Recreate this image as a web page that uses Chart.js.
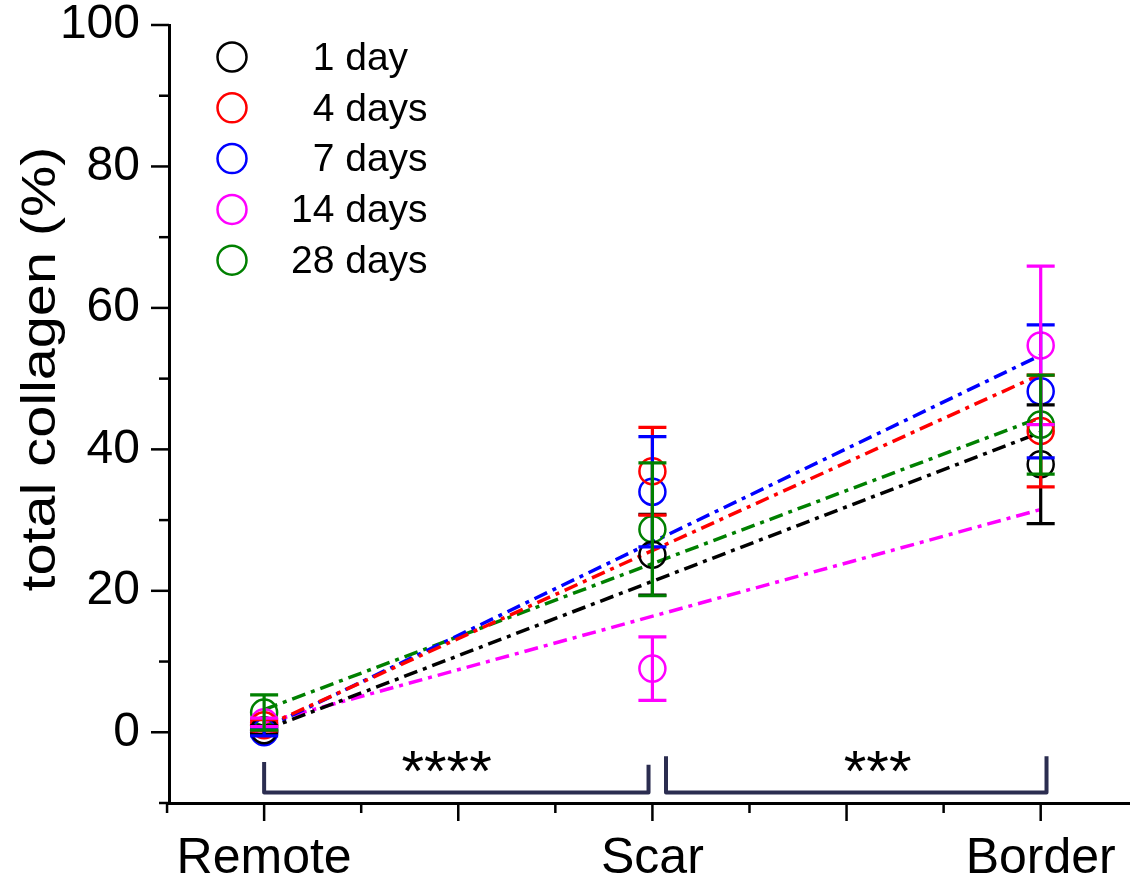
<!DOCTYPE html>
<html>
<head>
<meta charset="utf-8">
<script src="https://cdn.jsdelivr.net/npm/chart.js@4.4.1/dist/chart.umd.min.js"></script>
<style>
  html, body { margin: 0; padding: 0; background: #fff; }
  #wrap { width: 1130px; height: 881px; }
</style>
</head>
<body>
<div id="wrap"><canvas id="chart"></canvas></div>
<script>
const categories = ["Remote", "Scar", "Border"];
const seriesLabels = ["1 day", "4 days", "7 days", "14 days", "28 days"];
const seriesColors = ["#000000", "#ff0000", "#0000ff", "#ff00ff", "#008000"];
const yTitle = "total collagen (%)";

// mean total collagen (%) at Remote, Scar, Border
const day1Mean = [0.3, 25.1, 37.9];
const day4Mean = [1.0, 36.9, 42.6];
const day7Mean = [0.0, 34.0, 48.2];
const day14Mean = [1.4, 9.0, 54.7];
const day28Mean = [2.8, 28.7, 43.5];

// error bar half-lengths
const day1Err = [0.6, 5.7, 8.4];
const day4Err = [0.8, 6.2, 7.9];
const day7Err = [0.5, 7.8, 9.4];
const day14Err = [0.6, 4.5, 11.2];
const day28Err = [2.5, 9.4, 7.0];

// fitted lines: value at Remote, value at Border
const day1Fit = [0.3, 42.4];
const day4Fit = [0.8, 50.6];
const day7Fit = [0.5, 53.3];
const day14Fit = [1.3, 31.5];
const day28Fit = [3.2, 44.5];

const yTicks = [0, 20, 40, 60, 80, 100];
const yMinorTicks = [-10, 10, 30, 50, 70, 90];
const xMajorTicks = [1, 1.5, 2, 2.5, 3];
const xMinorTicks = [0.75, 1.25, 1.75, 2.25, 2.75];

const means = [day1Mean, day4Mean, day7Mean, day14Mean, day28Mean];
const errs = [day1Err, day4Err, day7Err, day14Err, day28Err];
const fits = [day1Fit, day4Fit, day7Fit, day14Fit, day28Fit];

const FONT = "'Liberation Sans', Arial, sans-serif";

/** ────── DATASETS ────── */
const fitSets = fits.map((f, i) => ({
  label: seriesLabels[i] + " fit",
  data: [{ x: 1, y: f[0] }, { x: 3, y: f[1] }],
  borderColor: seriesColors[i],
  borderWidth: 3.5,
  borderDash: [14, 6, 4, 6],
  pointRadius: 0,
  fill: false,
  showLine: true,
  order: 2,
}));

const pointSets = means.map((m, i) => ({
  label: seriesLabels[i],
  data: m.map((v, k) => ({ x: k + 1, y: v })),
  errors: errs[i],
  showLine: false,
  pointStyle: "circle",
  pointRadius: 13,
  pointBorderWidth: 2.5,
  borderColor: seriesColors[i],
  backgroundColor: "transparent",
  order: 1,
}));

/** ────── PLUGINS ────── */
const errorBars = {
  id: "errorBars",
  afterDatasetsDraw(chart) {
    const { ctx, scales: { y } } = chart;
    ctx.save();
    ctx.lineWidth = 3.2;
    chart.data.datasets.forEach((ds, i) => {
      if (!ds.errors) return;
      const meta = chart.getDatasetMeta(i);
      ctx.strokeStyle = ds.borderColor;
      meta.data.forEach((pt, k) => {
        const v = ds.data[k].y;
        const top = y.getPixelForValue(v + ds.errors[k]);
        const bot = y.getPixelForValue(v - ds.errors[k]);
        ctx.beginPath();
        ctx.moveTo(pt.x, top); ctx.lineTo(pt.x, bot);
        ctx.moveTo(pt.x - 14, top); ctx.lineTo(pt.x + 14, top);
        ctx.moveTo(pt.x - 14, bot); ctx.lineTo(pt.x + 14, bot);
        ctx.stroke();
      });
    });
    ctx.restore();
  },
};

const axisTicks = {
  id: "axisTicks",
  afterDraw(chart) {
    const { ctx, scales: { x, y } } = chart;
    ctx.save();
    ctx.strokeStyle = "#000";
    ctx.lineWidth = 2.5;
    const yl = chart.chartArea.left;
    const xb = chart.chartArea.bottom;
    yTicks.concat(yMinorTicks).forEach((v) => {
      const len = yTicks.includes(v) ? 18 : 10;
      const py = y.getPixelForValue(v);
      ctx.beginPath(); ctx.moveTo(yl - len, py); ctx.lineTo(yl, py); ctx.stroke();
    });
    xMajorTicks.concat(xMinorTicks).forEach((v) => {
      const len = xMajorTicks.includes(v) ? 18 : 10;
      const px = x.getPixelForValue(v);
      ctx.beginPath(); ctx.moveTo(px, xb); ctx.lineTo(px, xb + len); ctx.stroke();
    });

    // y axis title, drawn a little stretched along its length like the original
    ctx.fillStyle = "#000";
    ctx.font = "48px " + FONT;
    ctx.textAlign = "center";
    ctx.textBaseline = "middle";
    ctx.translate(42, 369);
    ctx.rotate(-Math.PI / 2);
    ctx.scale(1.2, 1);
    ctx.fillText(yTitle, 0, 0);
    ctx.restore();
  },
};

// significance brackets (Remote–Scar, Scar–Border)
const brackets = [
  { x0: 1.0, x1: 1.99, top0: -4.2, top1: -4.6, text: "****", tx: 1.47 },
  { x0: 2.035, x1: 3.015, top0: -3.4, top1: -3.4, text: "***", tx: 2.58 },
];

const sigBrackets = {
  id: "sigBrackets",
  afterDraw(chart) {
    const { ctx, scales: { x, y } } = chart;
    ctx.save();
    ctx.strokeStyle = "#2b2d50";
    ctx.lineWidth = 4;
    ctx.lineJoin = "round";
    brackets.forEach((b) => {
      const base = y.getPixelForValue(-8.5);
      ctx.beginPath();
      ctx.moveTo(x.getPixelForValue(b.x0), y.getPixelForValue(b.top0));
      ctx.lineTo(x.getPixelForValue(b.x0), base);
      ctx.lineTo(x.getPixelForValue(b.x1), base);
      ctx.lineTo(x.getPixelForValue(b.x1), y.getPixelForValue(b.top1));
      ctx.stroke();
      ctx.fillStyle = "#000";
      ctx.font = "58px " + FONT;
      ctx.textAlign = "center";
      ctx.textBaseline = "alphabetic";
      ctx.fillText(b.text, x.getPixelForValue(b.tx), y.getPixelForValue(-4.5) + 27);
    });
    ctx.restore();
  },
};

const legendBox = {
  id: "legendBox",
  afterDraw(chart) {
    const { ctx } = chart;
    ctx.save();
    ctx.font = "39px " + FONT;
    ctx.textBaseline = "middle";
    ctx.textAlign = "left";
    const digitW = ctx.measureText("0").width;
    seriesLabels.forEach((lab, i) => {
      const cy = 57 + i * 50.8;
      ctx.strokeStyle = seriesColors[i];
      ctx.lineWidth = 2.5;
      ctx.beginPath();
      ctx.arc(232, cy, 14.5, 0, Math.PI * 2);
      ctx.stroke();
      ctx.fillStyle = "#000";
      const pad = /^\d\s/.test(lab) ? digitW : 0;
      ctx.fillText(lab, 291 + pad, cy + 2);
    });
    ctx.restore();
  },
};

/** ────── CHART ────── */
new Chart(document.getElementById("chart"), {
  type: "line",
  data: { datasets: [...pointSets, ...fitSets] },
  options: {
    responsive: true,
    maintainAspectRatio: false,
    animation: false,
    layout: { autoPadding: false, padding: { top: 25, right: 0, bottom: 0, left: 0 } },
    plugins: { legend: { display: false }, tooltip: { enabled: false } },
    scales: {
      x: {
        type: "linear",
        min: 0.755,
        max: 3.23,
        afterBuildTicks: (s) => { s.ticks = [1, 2, 3].map((v) => ({ value: v })); },
        ticks: {
          callback: (v) => categories[v - 1],
          font: { family: FONT, size: 50 },
          color: "#000",
          padding: 26,
          maxRotation: 0,
          autoSkip: false,
        },
        grid: { display: false, drawTicks: false },
        border: { display: true, color: "#000", width: 3 },
        afterFit: (s) => { s.height = 78; s.paddingLeft = 0; s.paddingRight = 0; },
      },
      y: {
        min: -10,
        max: 100,
        afterBuildTicks: (s) => { s.ticks = yTicks.map((v) => ({ value: v })); },
        ticks: {
          font: { family: FONT, size: 48 },
          color: "#000",
          padding: 29,
        },
        grid: { display: false, drawTicks: false },
        border: { display: true, color: "#000", width: 3 },
        afterFit: (s) => { s.width = 169; s.paddingTop = 0; s.paddingBottom = 0; },
      },
    },
  },
  plugins: [errorBars, axisTicks, sigBrackets, legendBox],
});
</script>
</body>
</html>
